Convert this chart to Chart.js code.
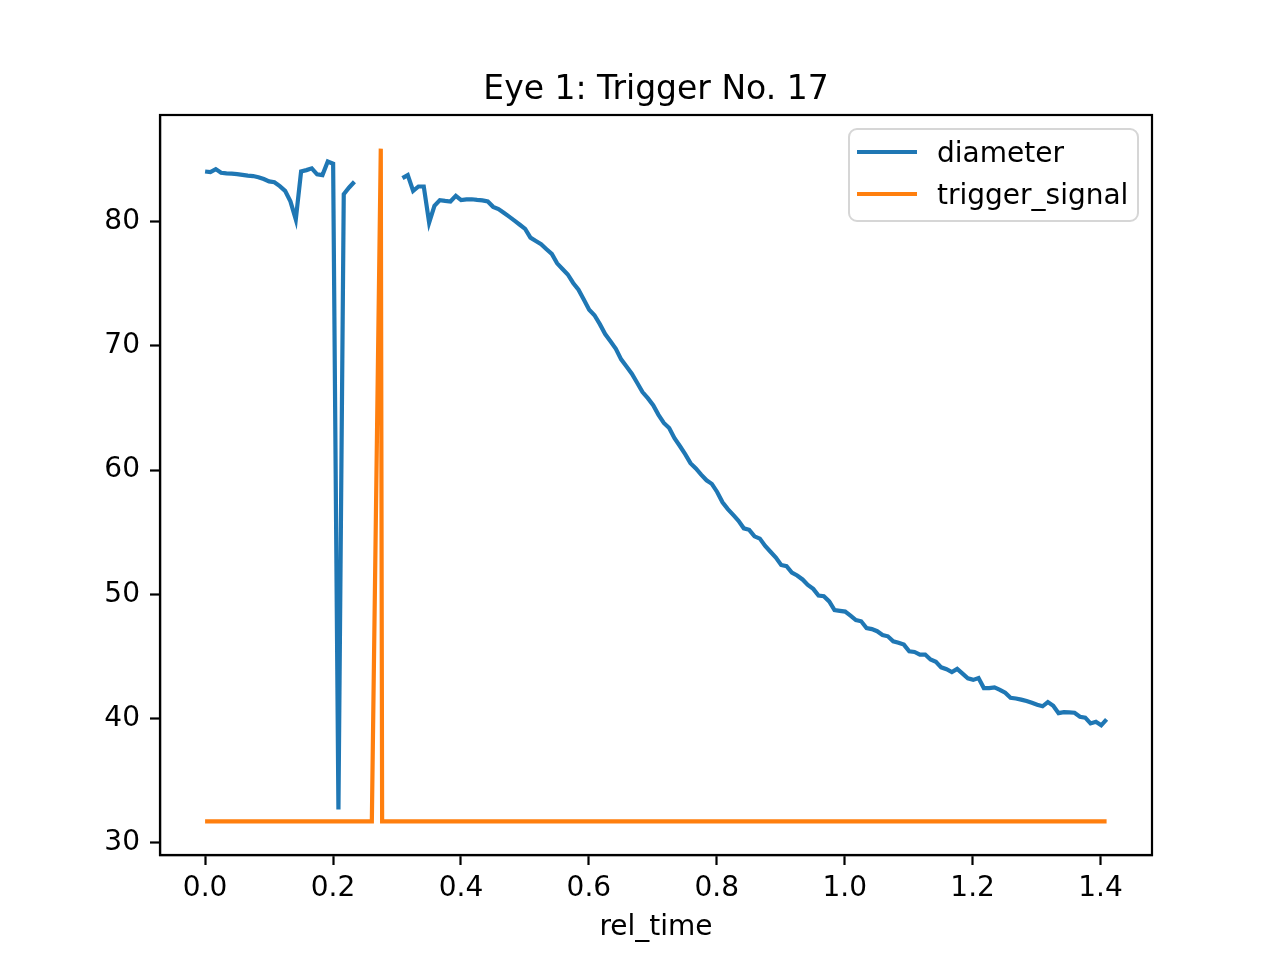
<!DOCTYPE html>
<html lang="en">
<head>
    <meta charset="UTF-8">
    <title>Eye 1: Trigger No. 17</title>
    <style>
        body {
            margin: 0;
            background: white;
        }

        .chart-container {
            width: 1280px;
            height: 960px;
        }
    </style>
    <script src="https://cdn.jsdelivr.net/npm/chart.js"></script>
</head>
<body>
    <div class="chart-container">
        <canvas id="eyeChart" width="1280" height="960"></canvas>
    </div>

    <script>
        const relTime = [
            0.0000, 0.0083, 0.0167, 0.0250, 0.0334, 0.0417, 0.0500, 0.0584, 0.0667, 0.0751,
            0.0834, 0.0917, 0.1001, 0.1084, 0.1168, 0.1251, 0.1334, 0.1418, 0.1501, 0.1585,
            0.1668, 0.1751, 0.1835, 0.1918, 0.2002, 0.2085, 0.2168, 0.2252, 0.2335, 0.2419,
            0.2502, 0.2585, 0.2669, 0.2752, 0.2836, 0.2919, 0.3002, 0.3086, 0.3169, 0.3253,
            0.3336, 0.3419, 0.3503, 0.3586, 0.3670, 0.3753, 0.3836, 0.3920, 0.4003, 0.4087,
            0.4170, 0.4253, 0.4337, 0.4420, 0.4504, 0.4587, 0.4670, 0.4754, 0.4837, 0.4921,
            0.5004, 0.5087, 0.5171, 0.5254, 0.5338, 0.5421, 0.5504, 0.5588, 0.5671, 0.5755,
            0.5838, 0.5921, 0.6005, 0.6088, 0.6172, 0.6255, 0.6338, 0.6422, 0.6505, 0.6589,
            0.6672, 0.6755, 0.6839, 0.6922, 0.7006, 0.7089, 0.7172, 0.7256, 0.7339, 0.7423,
            0.7506, 0.7589, 0.7673, 0.7756, 0.7840, 0.7923, 0.8006, 0.8090, 0.8173, 0.8257,
            0.8340, 0.8423, 0.8507, 0.8590, 0.8674, 0.8757, 0.8840, 0.8924, 0.9007, 0.9091,
            0.9174, 0.9257, 0.9341, 0.9424, 0.9508, 0.9591, 0.9674, 0.9758, 0.9841, 0.9925,
            1.0008, 1.0091, 1.0175, 1.0258, 1.0342, 1.0425, 1.0508, 1.0592, 1.0675, 1.0759,
            1.0842, 1.0925, 1.1009, 1.1092, 1.1176, 1.1259, 1.1342, 1.1426, 1.1509, 1.1593,
            1.1676, 1.1759, 1.1843, 1.1926, 1.2010, 1.2093, 1.2176, 1.2260, 1.2343, 1.2427,
            1.2510, 1.2593, 1.2677, 1.2760, 1.2844, 1.2927, 1.3010, 1.3094, 1.3177, 1.3261,
            1.3344, 1.3427, 1.3511, 1.3594, 1.3678, 1.3761, 1.3844, 1.3928, 1.4011, 1.4095
        ];

        // null = no pupil detected (gap in the line)
        const diameter = [
            84.06, 84.01, 84.25, 83.95, 83.90, 83.88, 83.85, 83.79, 83.73, 83.69,
            83.60, 83.45, 83.26, 83.19, 82.88, 82.50, 81.65, 80.20, 84.06, 84.17,
            84.31, 83.83, 83.77, 84.86, 84.68, 32.66, 82.23, 82.77, 83.23, null,
            null, null, null, null, null, null, null, 83.52, 83.77, 82.50,
            82.85, 82.85, 79.94, 81.29, 81.75, 81.69, 81.64, 82.10, 81.75, 81.81,
            81.82, 81.77, 81.73, 81.64, 81.21, 81.03, 80.73, 80.42, 80.10, 79.77,
            79.43, 78.73, 78.46, 78.20, 77.80, 77.42, 76.66, 76.20, 75.76, 75.08,
            74.54, 73.75, 72.92, 72.48, 71.76, 70.96, 70.38, 69.77, 68.92, 68.35,
            67.77, 67.04, 66.29, 65.80, 65.23, 64.45, 63.80, 63.39, 62.57, 61.94,
            61.28, 60.56, 60.14, 59.63, 59.18, 58.89, 58.24, 57.41, 56.86, 56.39,
            55.92, 55.31, 55.19, 54.66, 54.48, 53.89, 53.42, 52.96, 52.36, 52.26,
            51.75, 51.51, 51.19, 50.75, 50.43, 49.90, 49.84, 49.42, 48.73, 48.66,
            48.60, 48.27, 47.91, 47.82, 47.28, 47.19, 47.02, 46.72, 46.61, 46.21,
            46.09, 45.94, 45.40, 45.35, 45.14, 45.14, 44.74, 44.56, 44.11, 43.96,
            43.73, 43.98, 43.60, 43.23, 43.10, 43.25, 42.44, 42.43, 42.50, 42.30,
            42.06, 41.66, 41.60, 41.51, 41.39, 41.25, 41.09, 40.97, 41.31, 41.02,
            40.42, 40.50, 40.48, 40.45, 40.13, 40.06, 39.59, 39.73, 39.44, 39.92
        ];

        const triggerTime = [0.0000, 0.2607, 0.2747, 0.2768, 1.4095];
        const triggerSignal = [31.7, 31.7, 85.9, 31.7, 31.7];

        const xTicks = [0.0, 0.2, 0.4, 0.6, 0.8, 1.0, 1.2, 1.4];
        const yTicks = [30, 40, 50, 60, 70, 80];

        const chartTitle = 'Eye 1: Trigger No. 17';
        const seriesNames = ['diameter', 'trigger_signal'];
        const seriesColors = ['#1f77b4', '#ff7f0e'];

        Chart.defaults.font.family = "'DejaVu Sans', sans-serif";
        Chart.defaults.color = '#000';

        // black frame, title over the plot area and a matplotlib style legend box
        const frameAndLegend = {
            id: 'frameAndLegend',
            afterDraw(chart) {
                const ctx = chart.ctx;
                const a = chart.chartArea;
                ctx.save();
                ctx.strokeStyle = '#000';
                ctx.lineWidth = 2.2;
                ctx.strokeRect(a.left, a.top, a.right - a.left, a.bottom - a.top);

                ctx.fillStyle = '#000';
                ctx.font = "33px 'DejaVu Sans'";
                ctx.textAlign = 'center';
                ctx.textBaseline = 'middle';
                ctx.fillText(chartTitle, (a.left + a.right) / 2, 90);

                const bx = 849, by = 129, bw = 289, bh = 92, r = 8;
                ctx.beginPath();
                ctx.roundRect(bx, by, bw, bh, r);
                ctx.fillStyle = 'rgba(255,255,255,0.8)';
                ctx.fill();
                ctx.strokeStyle = '#d6d6d6';
                ctx.lineWidth = 2;
                ctx.stroke();

                ctx.font = "28px 'DejaVu Sans'";
                ctx.textAlign = 'left';
                seriesNames.forEach((name, i) => {
                    const y = 152 + i * 42;
                    ctx.strokeStyle = seriesColors[i];
                    ctx.lineWidth = 4.2;
                    ctx.beginPath();
                    ctx.moveTo(857, y);
                    ctx.lineTo(917, y);
                    ctx.stroke();
                    ctx.fillStyle = '#000';
                    ctx.fillText(name, 937, y + 3);
                });
                ctx.restore();
            }
        };

        const ctx = document.getElementById('eyeChart').getContext('2d');
        new Chart(ctx, {
            type: 'line',
            data: {
                datasets: [{
                    label: seriesNames[0],
                    data: relTime.map((t, i) => ({ x: t, y: diameter[i] })),
                    borderColor: seriesColors[0],
                    borderWidth: 4.2,
                    pointRadius: 0,
                    spanGaps: false,
                    order: 1
                }, {
                    label: seriesNames[1],
                    data: triggerTime.map((t, i) => ({ x: t, y: triggerSignal[i] })),
                    borderColor: seriesColors[1],
                    borderWidth: 4.2,
                    pointRadius: 0,
                    order: 0
                }]
            },
            options: {
                responsive: false,
                animation: false,
                devicePixelRatio: 1,
                layout: {
                    padding: { top: 115, right: 128, bottom: 0, left: 0 }
                },
                plugins: {
                    legend: { display: false },
                    tooltip: { enabled: false },
                    title: { display: false }
                },
                scales: {
                    x: {
                        type: 'linear',
                        min: -0.0705,
                        max: 1.4805,
                        afterBuildTicks: axis => { axis.ticks = xTicks.map(v => ({ value: v })); },
                        afterFit: axis => { axis.height = 105; },
                        ticks: {
                            font: { size: 28 },
                            padding: 7,
                            maxRotation: 0,
                            callback: v => v.toFixed(1)
                        },
                        grid: {
                            drawOnChartArea: false,
                            tickLength: 10,
                            tickWidth: 2.2,
                            tickColor: '#000'
                        },
                        border: { color: '#000', width: 2.2 },
                        title: {
                            display: true,
                            text: 'rel_time',
                            font: { size: 28 },
                            padding: { top: 4, bottom: 15 }
                        }
                    },
                    y: {
                        type: 'linear',
                        min: 28.99,
                        max: 88.61,
                        afterBuildTicks: axis => { axis.ticks = yTicks.map(v => ({ value: v })); },
                        afterFit: axis => { axis.width = 160; },
                        ticks: {
                            font: { size: 28 },
                            padding: 10,
                            callback: v => String(v)
                        },
                        grid: {
                            drawOnChartArea: false,
                            tickLength: 10,
                            tickWidth: 2.2,
                            tickColor: '#000'
                        },
                        border: { color: '#000', width: 2.2 }
                    }
                }
            },
            plugins: [frameAndLegend]
        });
    </script>
</body>
</html>
